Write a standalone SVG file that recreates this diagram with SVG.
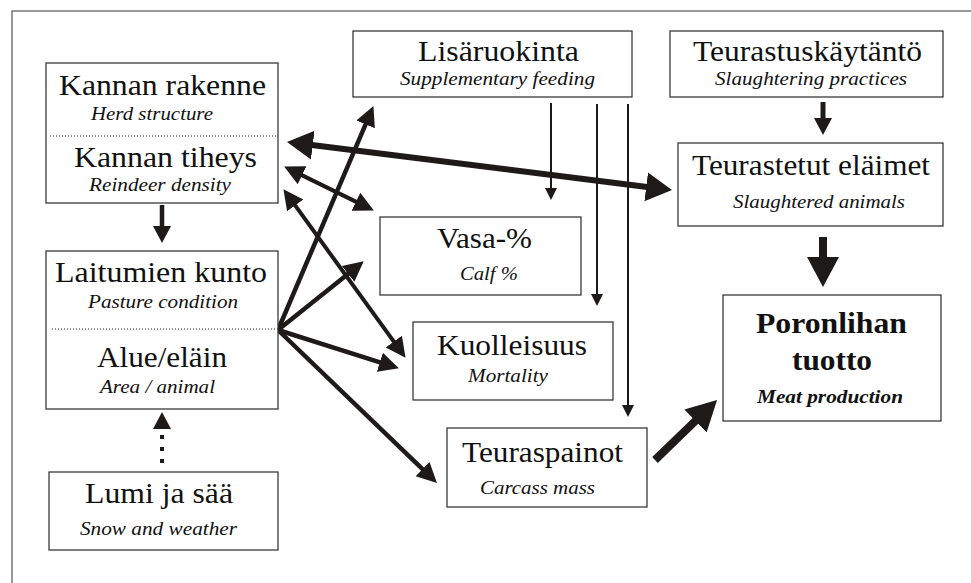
<svg xmlns="http://www.w3.org/2000/svg" width="971" height="583" viewBox="0 0 971 583">
<style>
.box{fill:#fff;stroke:#3a3a3a;stroke-width:1.3}
.sep{stroke:#222;stroke-width:1;stroke-dasharray:1 2;fill:none}
.t{font-family:"Liberation Serif","Times New Roman",Times,serif;font-size:30px;fill:#111}
.s{font-family:"Liberation Serif","Times New Roman",Times,serif;font-size:19px;font-style:italic;fill:#111}
.b{font-weight:bold}
.c{stroke:#1e1a1a;fill:none}
.ah{fill:#1e1a1a}
</style>
<defs>
<marker id="mA" markerUnits="userSpaceOnUse" markerWidth="14" markerHeight="14" viewBox="0 -7 14 14" refX="1" refY="0" orient="auto-start-reverse"><path class="ah" d="M0,-6 L12,0 L0,6 Z"/></marker>
<marker id="mB" markerUnits="userSpaceOnUse" markerWidth="20" markerHeight="20" viewBox="0 -10 20 20" refX="1" refY="0" orient="auto-start-reverse"><path class="ah" d="M0,-9 L17,0 L0,9 Z"/></marker>
<marker id="mC" markerUnits="userSpaceOnUse" markerWidth="22" markerHeight="22" viewBox="0 -11 22 22" refX="1" refY="0" orient="auto-start-reverse"><path class="ah" d="M0,-10 L20,0 L0,10 Z"/></marker>
<marker id="mD" markerUnits="userSpaceOnUse" markerWidth="28" markerHeight="32" viewBox="0 -16 28 32" refX="1" refY="0" orient="auto-start-reverse"><path class="ah" d="M0,-14.5 L26,0 L0,14.5 Z"/></marker>
<marker id="mE" markerUnits="userSpaceOnUse" markerWidth="32" markerHeight="34" viewBox="0 -17 32 34" refX="1" refY="0" orient="auto-start-reverse"><path class="ah" d="M0,-16 L30,0 L0,16 Z"/></marker>
</defs>
<rect x="12" y="11" width="990" height="620" fill="none" stroke="#777" stroke-width="1.5"/>

<g id="connectors">
<line class="c" x1="551" y1="103" x2="551" y2="189" stroke-width="2" marker-end="url(#mA)"/>
<line class="c" x1="597" y1="104" x2="597" y2="295" stroke-width="2" marker-end="url(#mA)"/>
<line class="c" x1="628" y1="104" x2="628" y2="406" stroke-width="2" marker-end="url(#mA)"/>
<line class="c" x1="162" y1="205" x2="162" y2="227" stroke-width="4.5" marker-end="url(#mB)"/>
<line class="c" x1="823" y1="102" x2="823" y2="119" stroke-width="5" marker-end="url(#mB)"/>
<path class="c" d="M162,463 L162,428" stroke-width="4" stroke-dasharray="4 8" marker-end="url(#mB)"/>
<line class="c" x1="823" y1="237" x2="823" y2="258" stroke-width="8" marker-end="url(#mE)"/>
<line class="c" x1="655" y1="460" x2="696.2" y2="420.2" stroke-width="8" marker-end="url(#mE)"/>
<line class="c" x1="311.8" y1="145.1" x2="647.2" y2="186.9" stroke-width="6" marker-start="url(#mD)" marker-end="url(#mD)"/>
<line class="c" x1="301.2" y1="174.9" x2="356.8" y2="202.1" stroke-width="4" marker-start="url(#mC)" marker-end="url(#mC)"/>
<line class="c" x1="294.6" y1="204.6" x2="394.4" y2="342.4" stroke-width="4" marker-start="url(#mC)" marker-end="url(#mC)"/>
<line class="c" x1="278" y1="330" x2="366" y2="123.4" stroke-width="4.5" marker-end="url(#mC)"/>
<line class="c" x1="278" y1="330" x2="348.9" y2="273.2" stroke-width="4.5" marker-end="url(#mC)"/>
<line class="c" x1="278" y1="330" x2="380.8" y2="362.6" stroke-width="4.5" marker-end="url(#mC)"/>
<line class="c" x1="278" y1="330" x2="423.3" y2="469.8" stroke-width="4.5" marker-end="url(#mC)"/>
</g>

<g id="kanta">
<rect class="box" x="46" y="63" width="232" height="140"/>
<line class="sep" x1="50" y1="136" x2="276" y2="136"/>
<text class="t" x="59" y="95" textLength="207" lengthAdjust="spacingAndGlyphs">Kannan rakenne</text>
<text class="s" x="91" y="120" textLength="122" lengthAdjust="spacingAndGlyphs">Herd structure</text>
<text class="t" x="74" y="167" textLength="183" lengthAdjust="spacingAndGlyphs">Kannan tiheys</text>
<text class="s" x="89" y="191" textLength="142" lengthAdjust="spacingAndGlyphs">Reindeer density</text>
</g>

<g id="laitumet">
<rect class="box" x="46" y="251" width="232" height="158"/>
<line class="sep" x1="52" y1="329" x2="278" y2="329"/>
<text class="t" x="55" y="282" textLength="212" lengthAdjust="spacingAndGlyphs">Laitumien kunto</text>
<text class="s" x="88" y="308" textLength="150" lengthAdjust="spacingAndGlyphs">Pasture condition</text>
<text class="t" x="97" y="367" textLength="130" lengthAdjust="spacingAndGlyphs">Alue/eläin</text>
<text class="s" x="100" y="393" textLength="115" lengthAdjust="spacingAndGlyphs">Area / animal</text>
</g>

<g id="lumi">
<rect class="box" x="49" y="472" width="229" height="78"/>
<text class="t" x="85" y="503" textLength="148" lengthAdjust="spacingAndGlyphs">Lumi ja sää</text>
<text class="s" x="80" y="535" textLength="157" lengthAdjust="spacingAndGlyphs">Snow and weather</text>
</g>

<g id="lisaruokinta">
<rect class="box" x="353" y="31" width="279" height="66"/>
<text class="t" x="418" y="61" textLength="161" lengthAdjust="spacingAndGlyphs">Lisäruokinta</text>
<text class="s" x="400" y="85" textLength="195" lengthAdjust="spacingAndGlyphs">Supplementary feeding</text>
</g>

<g id="teurastuskaytanto">
<rect class="box" x="670" y="31" width="273" height="66"/>
<text class="t" x="693" y="61" textLength="229" lengthAdjust="spacingAndGlyphs">Teurastuskäytäntö</text>
<text class="s" x="715" y="85" textLength="192" lengthAdjust="spacingAndGlyphs">Slaughtering practices</text>
</g>

<g id="teurastetut">
<rect class="box" x="678" y="143" width="265" height="83"/>
<text class="t" x="692" y="175" textLength="238" lengthAdjust="spacingAndGlyphs">Teurastetut eläimet</text>
<text class="s" x="733" y="208" textLength="172" lengthAdjust="spacingAndGlyphs">Slaughtered animals</text>
</g>

<g id="vasa">
<rect class="box" x="380" y="217" width="201" height="78"/>
<text class="t" x="437" y="248" textLength="95" lengthAdjust="spacingAndGlyphs">Vasa-%</text>
<text class="s" x="460" y="280" textLength="58" lengthAdjust="spacingAndGlyphs">Calf %</text>
</g>

<g id="kuolleisuus">
<rect class="box" x="413" y="322" width="200" height="78"/>
<text class="t" x="437" y="355" textLength="150" lengthAdjust="spacingAndGlyphs">Kuolleisuus</text>
<text class="s" x="468" y="382" textLength="80" lengthAdjust="spacingAndGlyphs">Mortality</text>
</g>

<g id="teuraspainot">
<rect class="box" x="447" y="428" width="200" height="79"/>
<text class="t" x="462" y="462" textLength="161" lengthAdjust="spacingAndGlyphs">Teuraspainot</text>
<text class="s" x="480" y="494" textLength="115" lengthAdjust="spacingAndGlyphs">Carcass mass</text>
</g>

<g id="poronlihan">
<rect class="box" x="723" y="295" width="218" height="126"/>
<text class="t b" x="756" y="333" font-size="31" textLength="151" lengthAdjust="spacingAndGlyphs">Poronlihan</text>
<text class="t b" x="792" y="370" font-size="31" textLength="80" lengthAdjust="spacingAndGlyphs">tuotto</text>
<text class="s b" x="757" y="403" textLength="146" lengthAdjust="spacingAndGlyphs">Meat production</text>
</g>
</svg>
